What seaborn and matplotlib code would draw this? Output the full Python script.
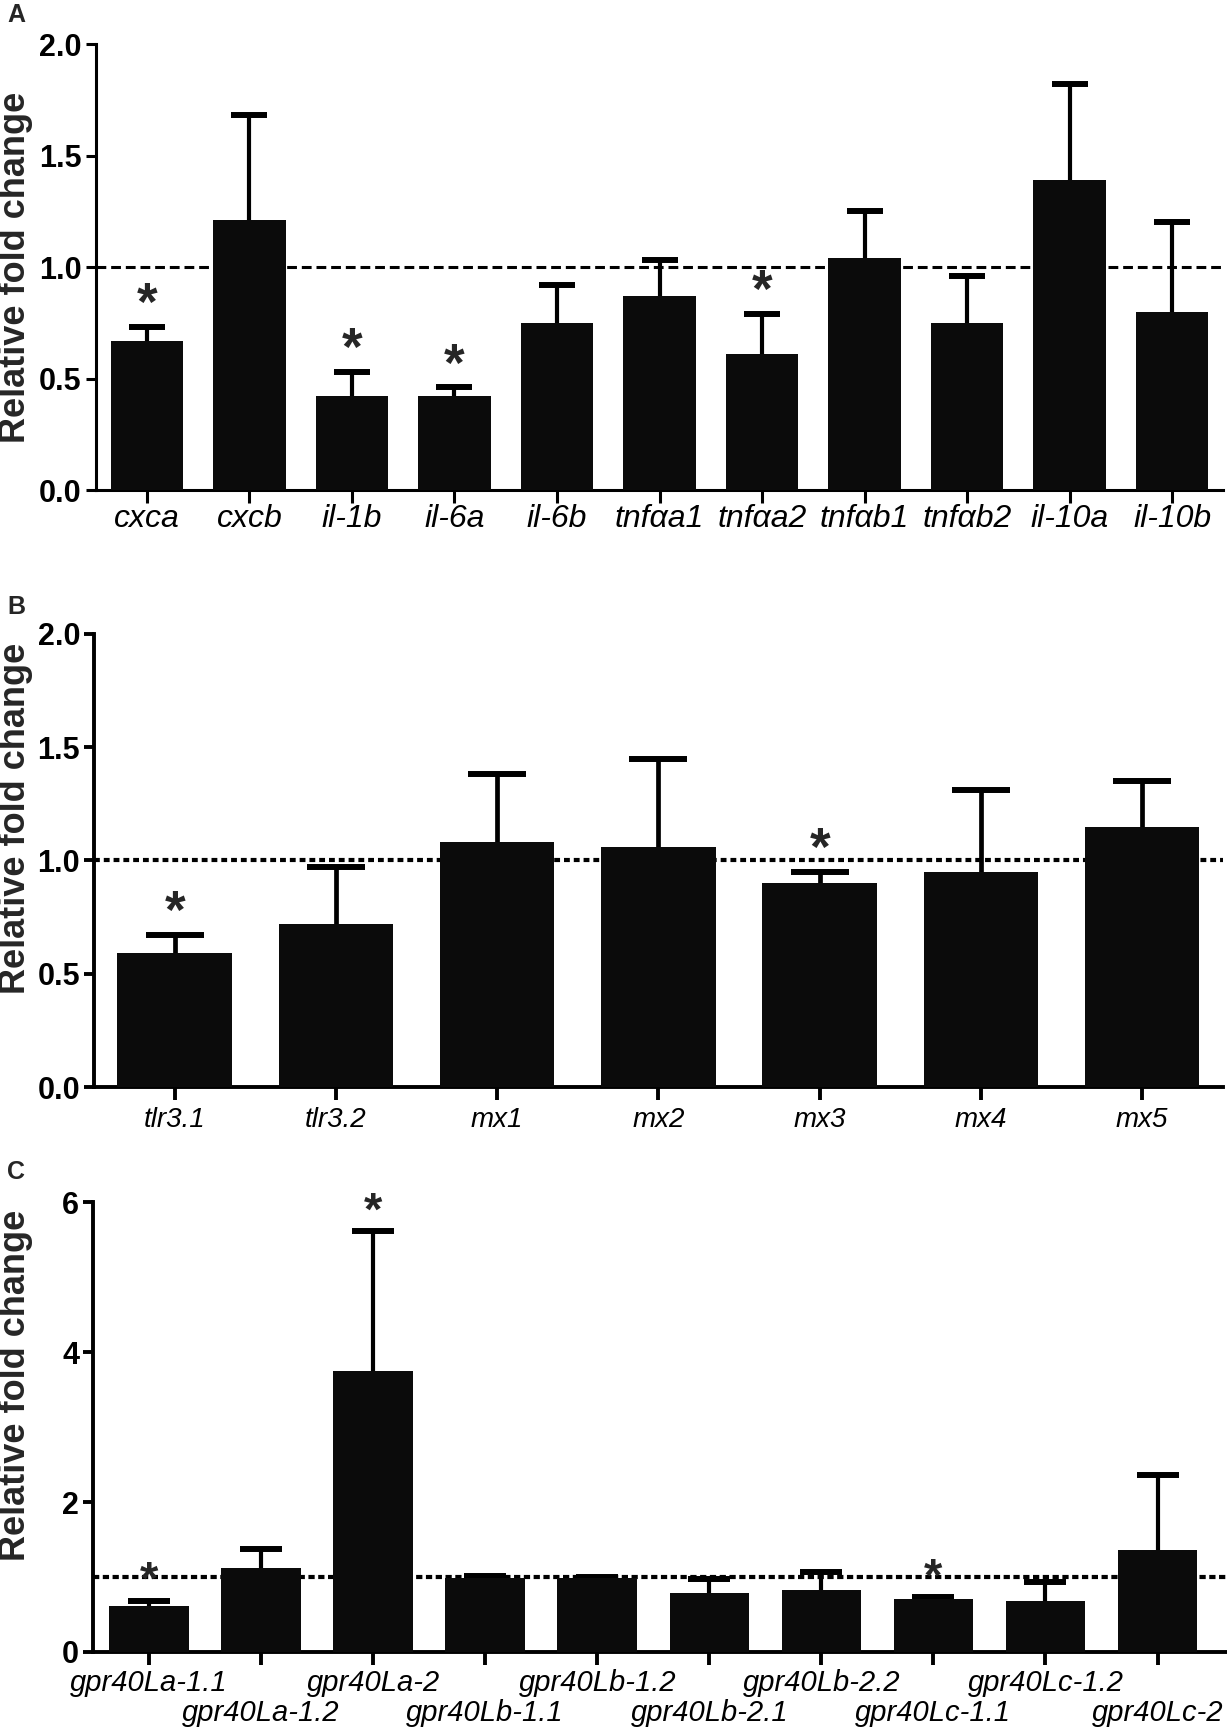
import numpy as np
import pandas as pd
import matplotlib
matplotlib.use("Agg")
import matplotlib.pyplot as plt
from matplotlib import font_manager as fm
import seaborn as sns

# ---------------- data ----------------
genes_a = ["cxca", "cxcb", "il-1b", "il-6a", "il-6b", "tnfαa1", "tnfαa2",
           "tnfαb1", "tnfαb2", "il-10a", "il-10b"]
mean_a = [0.67, 1.21, 0.42, 0.42, 0.75, 0.87, 0.61, 1.04, 0.75, 1.39, 0.80]
err_a = [0.06, 0.47, 0.11, 0.04, 0.17, 0.16, 0.18, 0.21, 0.21, 0.43, 0.40]
sig_a = [1, 0, 1, 1, 0, 0, 1, 0, 0, 0, 0]

genes_b = ["tlr3.1", "tlr3.2", "mx1", "mx2", "mx3", "mx4", "mx5"]
mean_b = [0.59, 0.72, 1.08, 1.06, 0.90, 0.95, 1.15]
err_b = [0.08, 0.25, 0.30, 0.39, 0.05, 0.36, 0.20]
sig_b = [1, 0, 0, 0, 1, 0, 0]

genes_c = ["gpr40La-1.1", "gpr40La-1.2", "gpr40La-2", "gpr40Lb-1.1", "gpr40Lb-1.2",
           "gpr40Lb-2.1", "gpr40Lb-2.2", "gpr40Lc-1.1", "gpr40Lc-1.2", "gpr40Lc-2"]
mean_c = [0.61, 1.12, 3.75, 0.99, 0.99, 0.79, 0.83, 0.71, 0.68, 1.36]
err_c = [0.07, 0.26, 1.86, 0.03, 0.01, 0.19, 0.24, 0.02, 0.25, 1.00]
sig_c = [1, 0, 1, 0, 0, 0, 0, 1, 0, 0]

yticks_ab = [0.0, 0.5, 1.0, 1.5, 2.0]
yticks_c = [0, 2, 4, 6]

# ---------------- style ----------------
sns.set_style("ticks")
plt.rcParams["font.family"] = ["Liberation Sans", "DejaVu Sans"]

try:
    fm.findfont(fm.FontProperties(family="Liberation Sans Narrow"),
                fallback_to_default=False)
    NARROW = True
except Exception:
    NARROW = False

if NARROW:
    font_a = (["Liberation Sans Narrow", "Liberation Sans", "DejaVu Sans"], 28)
else:
    font_a = (["Liberation Sans", "DejaVu Sans"], 23)

fig = plt.figure(figsize=(12.27, 17.34), dpi=100)
BAR = "#0b0b0b"
PX = 72.0 / 100.0  # points per pixel


def panel(rect, genes, means, errs, sigs, ylim, yticks, yfmt, xlim,
          spine_lw, err_lw, capsize, dash, dash_lw, xfamily, xfont,
          xpad, alt=False, ylabel_y=0.5, star_fs=38):
    ax = fig.add_axes(rect)
    df = pd.DataFrame({"gene": genes, "value": means})
    sns.barplot(data=df, x="gene", y="value", color=BAR, width=0.71,
                saturation=1, errorbar=None, ax=ax, zorder=3, linewidth=0)
    x = np.arange(len(genes))
    eb = ax.errorbar(x, means, yerr=[np.zeros(len(errs)), errs], fmt="none",
                     ecolor="black", elinewidth=err_lw, capsize=capsize,
                     capthick=4.3, zorder=2)
    caps = eb[1]
    if len(caps) >= 1:
        caps[0].set_visible(False)
    ax.axhline(1.0, color="black", lw=dash_lw, ls=dash, zorder=1)
    for i, s in enumerate(sigs):
        if s:
            ax.annotate("*", xy=(i, means[i] + errs[i]), xytext=(0, 5),
                        textcoords="offset points", ha="center", va="baseline",
                        fontsize=star_fs, fontweight="bold", zorder=5)
    ax.set_xlim(*xlim)
    ax.set_ylim(*ylim)
    ax.set_yticks(yticks)
    ax.set_yticklabels([yfmt.format(t) for t in yticks], fontsize=22,
                       fontweight="bold")
    ax.set_xticks(x)
    ax.set_xticklabels(genes, fontsize=xfont, fontstyle="italic",
                       family=xfamily)
    ax.set_xlabel("")
    ax.set_ylabel("Relative fold change", fontsize=26, fontweight="bold")
    axw_px = rect[2] * 1227
    left_px = rect[0] * 1227
    ax.yaxis.set_label_coords((33 - left_px) / axw_px, ylabel_y)
    sns.despine(ax=ax)
    for sp in ("left", "bottom"):
        ax.spines[sp].set_linewidth(spine_lw)
        ax.spines[sp].set_color("black")
    ax.tick_params(axis="y", direction="out", length=7, width=spine_lw,
                   pad=3, colors="black")
    ax.tick_params(axis="x", direction="out", length=9, width=spine_lw,
                   pad=xpad, colors="black")
    if alt:
        for j, t in enumerate(ax.xaxis.get_major_ticks()):
            if j % 2 == 1:
                t.set_pad(xpad + 30 * PX)
    ax.set_facecolor("white")
    return ax


panel([0.078, 0.7174, 0.919, 0.2572], genes_a, mean_a, err_a, sig_a,
      (0, 2.0), yticks_ab, "{:.1f}", (-0.5, 10.5), 2.2, 3.0, 13,
      (0, (3.2, 1.6)), 2.2, font_a[0], font_a[1], 1.0)

panel([0.0766, 0.3731, 0.920, 0.2613], genes_b, mean_b, err_b, sig_b,
      (0, 2.0), yticks_ab, "{:.1f}", (-0.5, 6.5), 2.8, 3.4, 21,
      (0, (1.4, 0.95)), 3.0, ["Liberation Sans", "DejaVu Sans"], 20, 5.5,
      ylabel_y=0.594)

panel([0.0758, 0.0473, 0.9242, 0.2594], genes_c, mean_c, err_c, sig_c,
      (0, 6), yticks_c, "{:d}", (-0.5, 9.62), 2.8, 3.0, 15,
      (0, (1.5, 0.85)), 3.0, ["Liberation Sans", "DejaVu Sans"], 21, 3.5,
      alt=True, ylabel_y=0.593, star_fs=34)

for lab, yy in (("A", 15), ("B", 607), ("C", 1172)):
    fig.text(16 / 1227, 1 - yy / 1734, lab, fontsize=18, fontweight="bold",
             ha="center", va="center")

fig.savefig("out.png", dpi=100, facecolor="white")
